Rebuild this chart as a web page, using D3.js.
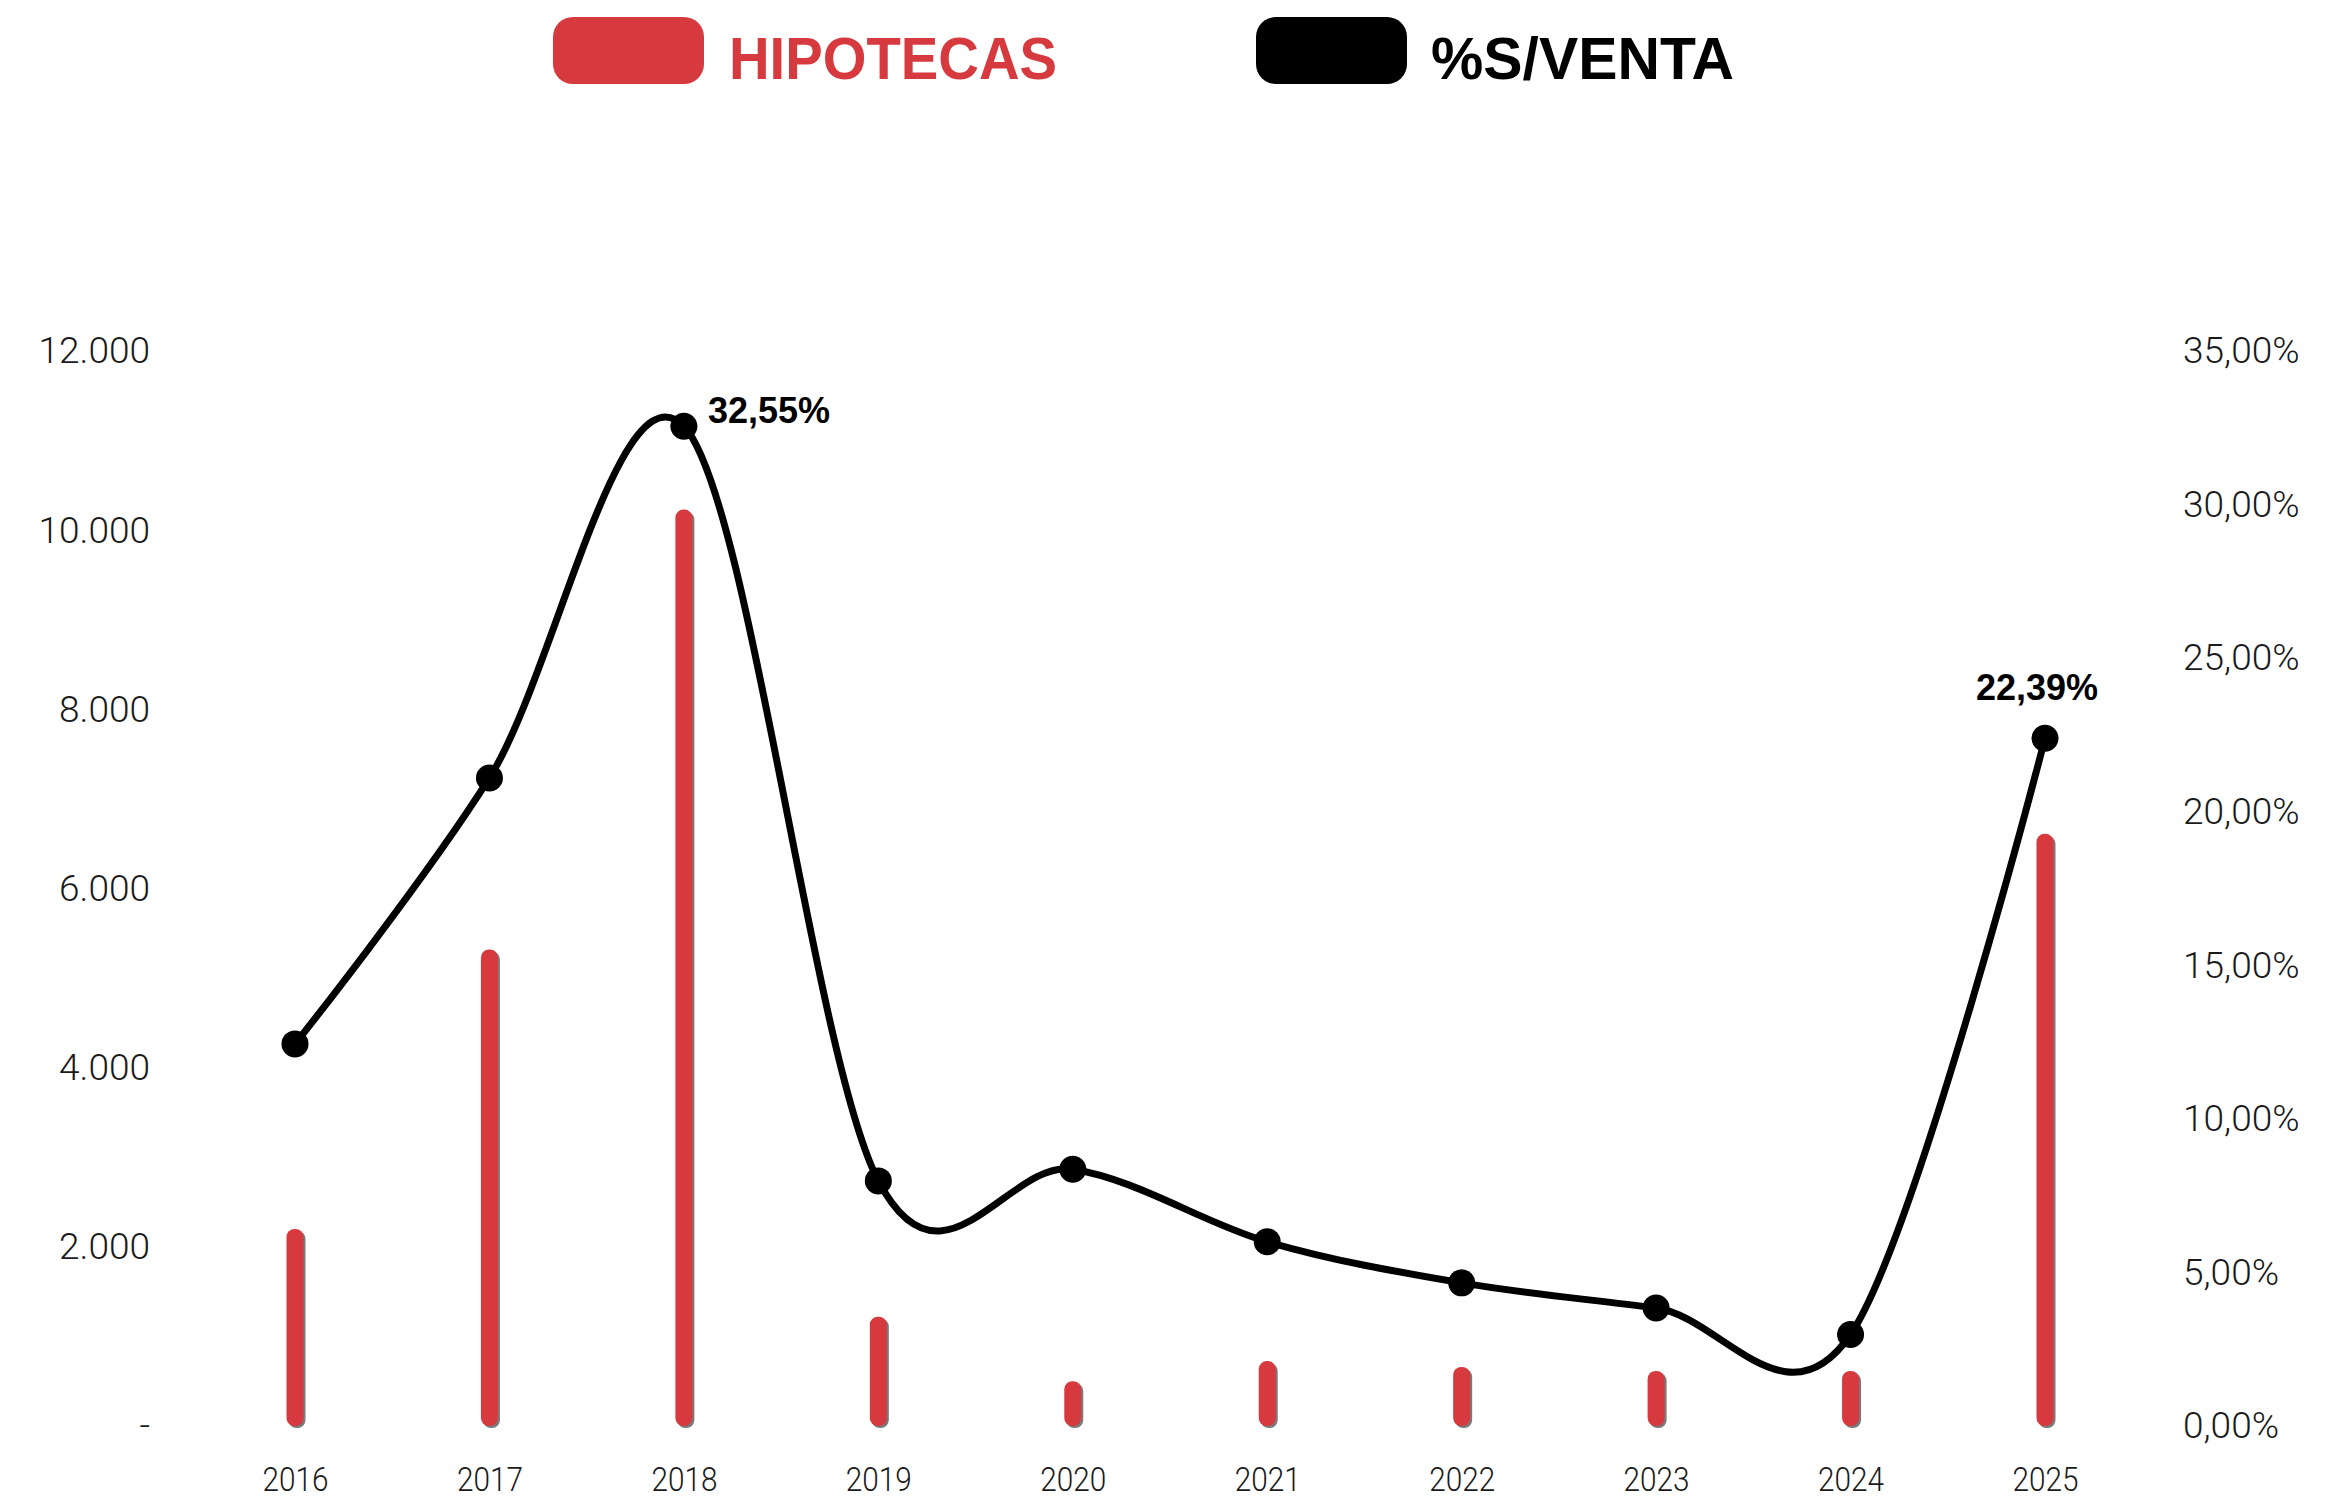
<!DOCTYPE html>
<html>
<head>
<meta charset="utf-8">
<script src="https://cdn.jsdelivr.net/npm/d3@7"></script>
<style>
  html, body { margin: 0; padding: 0; background: #fff; }
  svg { display: block; }
</style>
</head>
<body>
<script>
// ---- data ----
const years = ["2016", "2017", "2018", "2019", "2020", "2021", "2022", "2023", "2024", "2025"];
const hipotecas = [2200, 5320, 10230, 1220, 500, 725, 660, 615, 615, 6610];
const pctVenta = [12.44, 21.1, 32.55, 7.98, 8.36, 6.0, 4.66, 3.84, 2.98, 22.39];
const labeledYears = ["2018", "2025"];
const leftTicks = [0, 2000, 4000, 6000, 8000, 10000, 12000];
const rightTicks = [0, 5, 10, 15, 20, 25, 30, 35];
const legendLabels = ["HIPOTECAS", "%S/VENTA"];

const W = 2346, H = 1499;
const RED = "#d63a3f";
const axisFont = "'Roboto', 'Liberation Sans', Arial, sans-serif";
const boldFont = "'Liberation Sans', Arial, sans-serif";

const svg = d3.select("body").append("svg")
  .attr("width", W).attr("height", H)
  .attr("viewBox", `0 0 ${W} ${H}`);
svg.append("rect").attr("width", W).attr("height", H).attr("fill", "#fff");

const x = d3.scalePoint().domain(years).range([295, 2045]);
const yL = d3.scaleLinear().domain([0, 12000]).range([1426, 351]);
const yR = d3.scaleLinear().domain([0, 35]).range([1426, 351]);

const fmtThousands = d => d === 0 ? "-" : d3.format(",")(d).replace(/,/g, ".");
const fmtPct = d => d3.format(".2f")(d).replace(".", ",") + "%";

// ---- left axis ----
const gL = svg.append("g").attr("transform", "translate(150,0)")
  .call(d3.axisLeft(yL).tickValues(leftTicks).tickFormat(fmtThousands).tickSize(0).tickPadding(0));
gL.select(".domain").remove();
gL.selectAll("text").attr("font-family", axisFont).attr("font-weight", 300)
  .attr("font-size", 37).attr("fill", "#1a1a1a");

// ---- right axis ----
const gR = svg.append("g").attr("transform", "translate(2183,0)")
  .call(d3.axisRight(yR).tickValues(rightTicks).tickFormat(fmtPct).tickSize(0).tickPadding(0));
gR.select(".domain").remove();
gR.selectAll("text").attr("font-family", axisFont).attr("font-weight", 300)
  .attr("font-size", 37).attr("fill", "#1a1a1a");

// ---- x axis ----
const gX = svg.append("g").attr("transform", "translate(0,1468)")
  .call(d3.axisBottom(x).tickSize(0).tickPadding(0));
gX.select(".domain").remove();
gX.selectAll("text").attr("font-family", axisFont).attr("font-weight", 300)
  .attr("font-size", 33).attr("fill", "#1a1a1a")
  .attr("textLength", 66).attr("lengthAdjust", "spacingAndGlyphs");

// ---- bars ----
const bw = 17;
const bars = svg.append("g");
bars.selectAll("rect.shadow").data(years).join("rect").attr("class", "shadow")
  .attr("x", (d) => x(d) - bw / 2 + 2)
  .attr("y", (d, i) => yL(hipotecas[i]) + 2)
  .attr("width", bw)
  .attr("height", (d, i) => yL(0) - yL(hipotecas[i]))
  .attr("rx", 8).attr("fill", "#7a7a7a");
bars.selectAll("rect.bar").data(years).join("rect").attr("class", "bar")
  .attr("x", (d) => x(d) - bw / 2)
  .attr("y", (d, i) => yL(hipotecas[i]))
  .attr("width", bw)
  .attr("height", (d, i) => yL(0) - yL(hipotecas[i]))
  .attr("rx", 8).attr("fill", RED);

// ---- line ----
const pts = years.map((d, i) => [x(d), yR(pctVenta[i])]);
svg.append("path")
  .attr("d", d3.line().curve(d3.curveCatmullRom.alpha(0))(pts))
  .attr("fill", "none").attr("stroke", "#000").attr("stroke-width", 7)
  .attr("stroke-linejoin", "round").attr("stroke-linecap", "round");
svg.append("g").selectAll("circle").data(years).join("circle")
  .attr("cx", d => x(d))
  .attr("cy", (d, i) => yR(pctVenta[i]))
  .attr("r", 13.5).attr("fill", "#000");

// ---- value labels ----
years.forEach((d, i) => {
  if (!labeledYears.includes(d)) return;
  const isLast = i === years.length - 1;
  svg.append("text")
    .attr("x", isLast ? x(d) - 8 : x(d) + 24)
    .attr("y", isLast ? yR(pctVenta[i]) - 38 : yR(pctVenta[i]) - 3)
    .attr("text-anchor", isLast ? "middle" : "start")
    .attr("font-family", boldFont).attr("font-weight", "bold")
    .attr("font-size", 36).attr("fill", "#000")
    .text(fmtPct(pctVenta[i]));
});

// ---- legend ----
const legend = [
  { label: legendLabels[0], color: RED, rx: 553, tx: 729, tw: 328 },
  { label: legendLabels[1], color: "#000", rx: 1256, tx: 1431, tw: 303 }
];
legend.forEach(l => {
  svg.append("rect").attr("x", l.rx).attr("y", 17).attr("width", 151).attr("height", 67)
    .attr("rx", 20).attr("fill", l.color);
  svg.append("text").attr("x", l.tx).attr("y", 79)
    .attr("font-family", boldFont).attr("font-weight", "bold")
    .attr("font-size", 60).attr("fill", l.color)
    .attr("textLength", l.tw).attr("lengthAdjust", "spacingAndGlyphs")
    .text(l.label);
});
</script>
</body>
</html>
